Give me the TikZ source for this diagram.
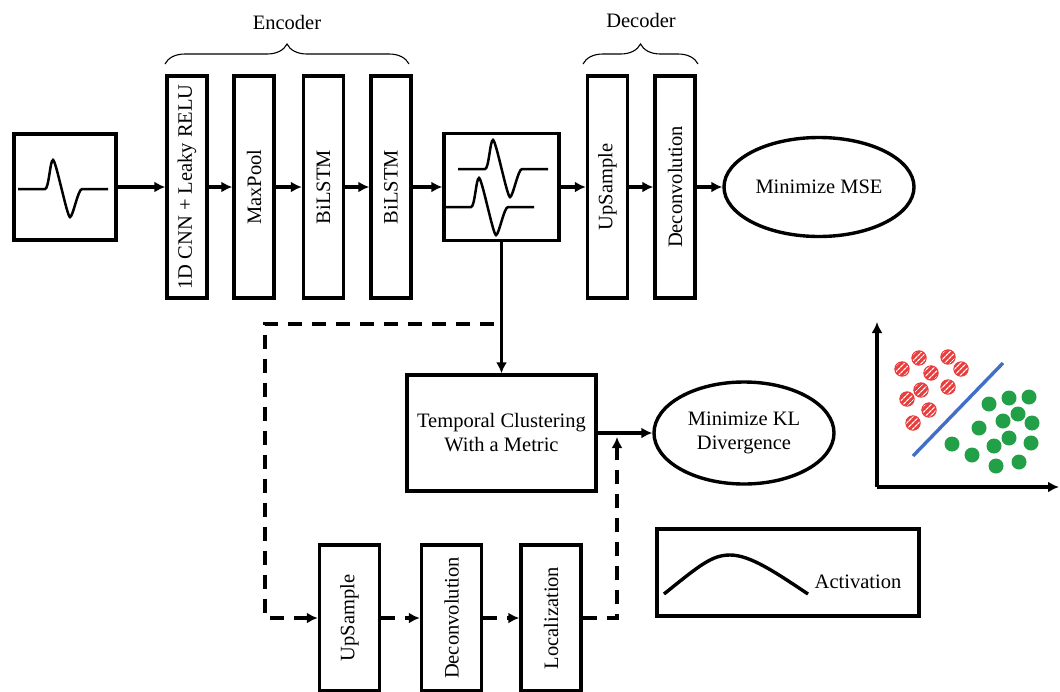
\documentclass[tikz,border=0pt]{standalone}
\usepackage{fontspec}
\setmainfont{Liberation Serif}
\usetikzlibrary{shapes,shapes.geometric,arrows.meta,calc,positioning,decorations.pathreplacing,patterns.meta}
\definecolor{dotred}{RGB}{232,62,62}
\definecolor{dotgreen}{RGB}{34,160,72}
\definecolor{sepblue}{RGB}{66,110,200}
\tikzset{blk/.style={draw, line width=3.4pt, inner sep=0pt}}
\tikzstyle{layer}=[blk, rotate=90, minimum width=222pt, minimum height=40pt]
\tikzstyle{dlayer}=[blk, rotate=90, minimum width=146pt, minimum height=60pt]
\tikzstyle{goal}=[blk, ellipse, align=center]
\tikzstyle{dsh}=[dash pattern=on 14pt off 10pt]
\tikzstyle{wave}=[line width=2.5pt]
\tikzset{pulse/.pic={\draw[wave] (-27,0) -- (0,0) .. controls (4,0) and (5,-29) .. (8,-29) .. controls (11,-29) and (22,28) .. (25,28) .. controls (28,28) and (33,0) .. (37,0) -- (63,0);}}

\begin{document}
\begin{tikzpicture}[x=1pt, y=-1pt, >={Latex[length=11pt,width=11pt]}, line width=3.4pt, font=\fontsize{20.5}{24}\selectfont]
\useasboundingbox (0,0) rectangle (1060,691);
% encoder / decoder row
\node[blk, minimum width=102pt, minimum height=106pt] (inp) at (65,187) {};
\pic at (45,189) {pulse};
\node[layer] (cnn) at (187,187) {1D CNN + Leaky RELU};
\node[layer] (pool) at (254,187) {MaxPool};
\node[layer] (lstmA) at (323.5,187) {BiLSTM};
\node[layer] (lstmB) at (391,187) {BiLSTM};
\node[blk, minimum width=115pt, minimum height=107pt] (lat) at (501.5,187) {};
\pic at (485,169) {pulse};
\pic at (471,207) {pulse};
\node[layer] (up) at (607.5,187) {UpSample};
\node[layer] (deconv) at (675,187) {Deconvolution};
\node[goal, minimum width=190pt, minimum height=99pt] (mse) at (819,187) {Minimize MSE};
\path[->] (inp) edge (cnn)
	(cnn) edge (pool)
	(pool) edge (lstmA)
	(lstmA) edge (lstmB)
	(lstmB) edge (lat)
	(lat) edge (up)
	(up) edge (deconv)
	(deconv) edge (mse);
\node (enc) at (287,22) {Encoder};
\node (dec) at (641,20) {Decoder};
\draw[decorate, decoration={brace, amplitude=20pt}, line width=1.1pt] (165,64) -- (409,64);
\draw[decorate, decoration={brace, amplitude=20pt}, line width=1.1pt] (583,64) -- (698,64);
% clustering branch
\node[blk, minimum width=189pt, minimum height=116pt, align=center] (tmp) at (501.5,433) {Temporal Clustering\\With a Metric};
\node[goal, minimum width=180pt, minimum height=102pt] (kl) at (744,433) {Minimize KL\\Divergence};
\path[->] (lat) edge (tmp)
	(tmp) edge (kl);
% localization branch
\node[dlayer] (up2) at (349.5,618) {UpSample};
\node[dlayer] (dec2) at (451.5,618) {Deconvolution};
\node[dlayer] (loc) at (551,618) {Localization};
\coordinate (tap) at (494,324);
\coordinate (corner) at (265,618);
\coordinate (join) at (617,433);
\draw[dsh,->] (tap) -| (corner) -- (up2);
\path[dsh,->] (up2) edge (dec2)
	(dec2) edge (loc);
\draw[dsh,->,shorten >=4pt] (loc) -| (join);
% activation legend
\node[blk, minimum width=262pt, minimum height=87pt] (act) at (788,572.5) {};
\node (actlbl) at (858,582) {Activation};
\draw (664,594) .. controls (700,565) and (712,555) .. (730,555) .. controls (750,555) and (775,572) .. (808,594);
% clusters
\coordinate (org) at (877,487);
\coordinate (ytip) at (877,322);
\coordinate (xtip) at (1059,487);
\draw[->] (org) -- (ytip);
\draw[->] (org) -- (xtip);
\draw[sepblue, line width=3.4pt] (913,456) -- (1003,363);
\foreach \p in {(902,369),(919,358),(948,357),(931,373),(961,369),(921,390),(948,387),(907,399),(929,410),(913,423)}
	\path[draw=dotred, line width=1pt, preaction={fill=dotred}, pattern={Lines[angle=45,distance=4pt,line width=1.3pt]}, pattern color=white] \p circle[radius=7.2pt];
\foreach \p in {(989,404),(1009,398),(1029,397),(1018,414),(1003,421),(1032,423),(979,428),(1009,438),(994,446),(1031,443),(952,444),(972,455),(996,466),(1019,462)}
	\fill[dotgreen] \p circle[radius=7.5pt];
\end{tikzpicture}
\end{document}
